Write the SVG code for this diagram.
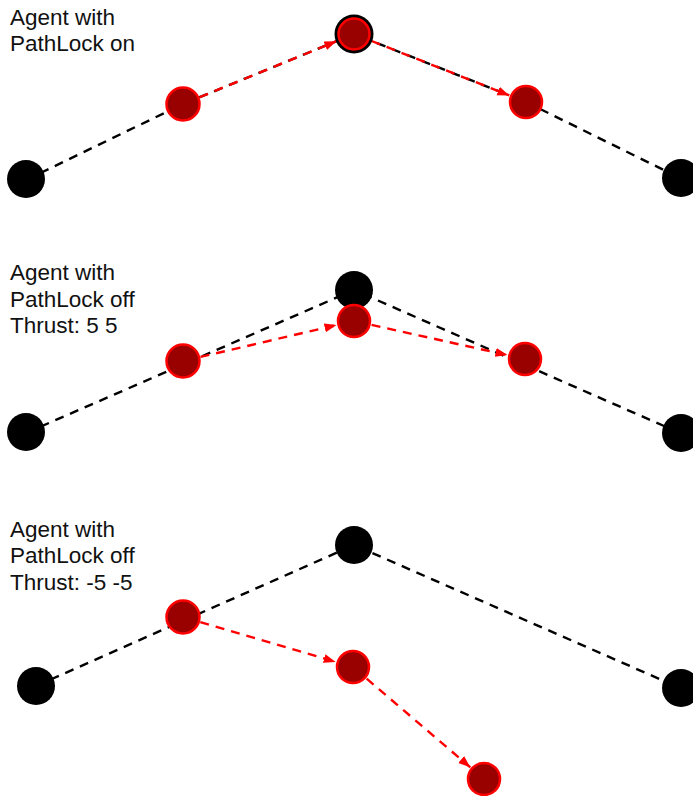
<svg xmlns="http://www.w3.org/2000/svg" width="693" height="796" viewBox="0 0 693 796">
  <style>
    .label { font-family: "Liberation Sans", Arial, sans-serif; font-size: 22.5px; fill: #111; }
    .path { fill: none; stroke: #000; stroke-width: 2.4; stroke-dasharray: 9 7; }
    .move { fill: none; stroke: #ff0000; stroke-width: 2.4; stroke-dasharray: 9 7; marker-end: url(#arrow); }
    .wp { fill: #000; }
    .agent { fill: #990000; stroke: #ff0000; stroke-width: 2.5; }
  </style>
  <defs>
    <marker id="arrow" markerUnits="userSpaceOnUse" markerWidth="13" markerHeight="10" refX="12" refY="4.5" orient="auto">
      <path d="M0,0 L12,4.5 L0,9 z" fill="#ff0000"/>
    </marker>
  </defs>
  <rect width="693" height="796" fill="#fff"/>

  <!-- Panel labels -->
  <g id="label-1">
    <text class="label" x="10" y="25">Agent with</text>
    <text class="label" x="10" y="51">PathLock on</text>
  </g>
  <g id="label-2">
    <text class="label" x="10" y="280">Agent with</text>
    <text class="label" x="10" y="307">PathLock off</text>
    <text class="label" x="10" y="333">Thrust: 5 5</text>
  </g>
  <g id="label-3">
    <text class="label" x="10" y="537">Agent with</text>
    <text class="label" x="10" y="563">PathLock off</text>
    <text class="label" x="10" y="590">Thrust: -5 -5</text>
  </g>

  <g id="connectors">
    <!-- waypoint paths -->
    <polyline class="path" points="26,180 183,104 354,34 526,102 680,178"/>
    <polyline class="path" points="26,433 354,290 680,433"/>
    <polyline class="path" points="36,686 354,545 680,688"/>
    <!-- agent moves -->
    <line class="move" x1="199.7" y1="97.2" x2="336.4" y2="41.2"/>
    <line class="move" x1="371.7" y1="41" x2="509.3" y2="95.4"/>
    <line class="move" x1="200.5" y1="356.9" x2="336.5" y2="325.1"/>
    <line class="move" x1="371.6" y1="324.9" x2="507.4" y2="355.1"/>
    <line class="move" x1="200.3" y1="622.1" x2="335.7" y2="661.9"/>
    <line class="move" x1="366.7" y1="678.7" x2="470.3" y2="767.3"/>
  </g>

  <!-- Panel 1 -->
  <g id="p1-wp-left"><circle class="wp" cx="26" cy="179" r="19"/></g>
  <g id="p1-wp-top"><circle class="wp" cx="354" cy="34" r="19.5"/></g>
  <g id="p1-wp-right"><circle class="wp" cx="681" cy="178" r="19"/></g>
  <g id="p1-agent-1"><circle class="agent" cx="183" cy="104" r="16.5"/></g>
  <g id="p1-agent-2"><circle class="agent" cx="354" cy="34" r="15.5"/></g>
  <g id="p1-agent-3"><circle class="agent" cx="526" cy="102" r="16"/></g>

  <!-- Panel 2 -->
  <g id="p2-wp-left"><circle class="wp" cx="26" cy="432" r="19"/></g>
  <g id="p2-wp-top"><circle class="wp" cx="354" cy="290" r="19"/></g>
  <g id="p2-wp-right"><circle class="wp" cx="681" cy="433" r="19"/></g>
  <g id="p2-agent-1"><circle class="agent" cx="183" cy="361" r="16.5"/></g>
  <g id="p2-agent-2"><circle class="agent" cx="354" cy="321" r="16"/></g>
  <g id="p2-agent-3"><circle class="agent" cx="525" cy="359" r="16"/></g>

  <!-- Panel 3 -->
  <g id="p3-wp-left"><circle class="wp" cx="36" cy="686" r="19"/></g>
  <g id="p3-wp-top"><circle class="wp" cx="354" cy="545" r="19"/></g>
  <g id="p3-wp-right"><circle class="wp" cx="681" cy="688" r="19"/></g>
  <g id="p3-agent-1"><circle class="agent" cx="183" cy="617" r="16.5"/></g>
  <g id="p3-agent-2"><circle class="agent" cx="353" cy="667" r="16"/></g>
  <g id="p3-agent-3"><circle class="agent" cx="484" cy="779" r="16"/></g>
</svg>
